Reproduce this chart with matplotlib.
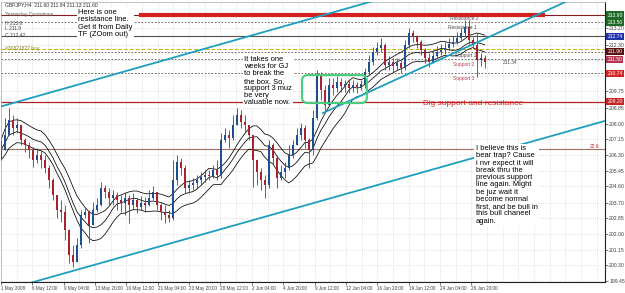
import numpy as np
import pandas as pd
import matplotlib
matplotlib.use("Agg")
import matplotlib.pyplot as plt
import matplotlib.transforms as mtransforms
from matplotlib.patches import FancyBboxPatch

plt.rcParams['font.family'] = ['Liberation Sans', 'DejaVu Sans']

# GBPJPY H4, one candle here ~ two H4 bars
first_open = 206.10
closes = [206.57, 207.38, 208.20, 207.76, 207.93, 207.11, 206.84, 206.57, 206.02, 206.30,
          206.02, 205.59, 204.94, 204.12, 203.31, 203.20, 202.22, 200.86, 200.48, 201.41,
          203.04, 203.20, 202.49, 203.31, 203.58, 204.50, 204.29, 203.96, 204.12, 203.85,
          203.69, 203.96, 203.58, 203.85, 203.47, 203.69, 203.58, 203.96, 204.29, 203.58,
          203.20, 203.04, 202.87, 204.94, 205.92, 205.59, 204.50, 204.67, 204.77, 204.94,
          205.10, 205.21, 205.15, 205.48, 205.21, 207.11, 207.38, 207.22, 207.93, 208.47,
          208.09, 207.93, 207.38, 206.02, 205.37, 204.94, 204.67, 206.84, 206.13, 205.05,
          205.37, 205.59, 206.30, 206.84, 207.38, 207.76, 207.11, 206.57, 208.31, 210.64,
          209.83, 209.01, 210.10, 209.94, 210.26, 210.05, 210.15, 209.94, 210.10, 209.99,
          210.15, 210.81, 211.35, 211.89, 212.11, 212.28, 211.19, 211.35, 211.13, 211.30,
          211.02, 212.28, 212.93, 212.76, 212.44, 212.00, 211.57, 211.35, 211.68, 211.89,
          212.00, 212.11, 212.33, 212.44, 212.66, 212.93, 213.25, 212.55, 212.28, 211.46,
          211.57, 211.35]
highs = [207.11, 208.31, 208.85, 208.47, 208.31, 207.93, 207.22, 207.00, 206.73, 206.68,
         206.57, 206.30, 205.75, 205.05, 204.12, 203.85, 203.58, 202.30, 201.41, 201.79,
         203.31, 203.42, 203.31, 203.74, 203.96, 204.83, 204.67, 204.50, 204.39, 204.29,
         204.12, 204.29, 204.12, 204.23, 203.96, 204.07, 204.01, 204.39, 204.61, 204.29,
         203.69, 203.58, 203.31, 206.02, 206.30, 206.13, 205.75, 204.94, 205.05, 205.21,
         205.37, 205.48, 205.48, 205.75, 206.02, 207.49, 207.76, 207.66, 208.47, 208.85,
         208.74, 208.47, 207.93, 207.38, 206.02, 205.59, 205.21, 207.11, 206.95, 206.30,
         205.75, 205.92, 206.84, 207.11, 207.76, 208.04, 207.93, 207.22, 208.74, 210.92,
         210.81, 210.10, 210.48, 210.48, 210.59, 210.48, 210.37, 210.37, 210.37, 210.26,
         210.37, 211.02, 211.73, 212.17, 212.44, 212.66, 212.40, 211.68, 211.57, 211.57,
         211.46, 212.55, 213.20, 213.09, 212.82, 212.55, 212.11, 211.84, 212.00, 212.22,
         212.33, 212.44, 212.66, 212.76, 212.98, 213.20, 213.63, 213.63, 212.71, 212.93,
         211.84, 211.73]
lows = [206.02, 206.57, 207.38, 207.38, 207.49, 206.84, 206.46, 206.13, 205.65, 205.86,
        205.59, 205.32, 204.50, 203.85, 202.87, 202.66, 201.68, 200.43, 200.21, 200.48,
        201.24, 202.87, 201.51, 202.49, 203.20, 203.50, 203.96, 203.58, 203.58, 203.31,
        203.20, 203.04, 202.60, 203.31, 203.15, 203.31, 203.20, 203.52, 203.85, 203.31,
        202.77, 202.60, 202.66, 202.77, 204.67, 205.21, 204.23, 204.23, 204.39, 204.50,
        204.67, 204.83, 204.94, 205.05, 204.94, 205.05, 207.00, 206.68, 207.11, 207.93,
        207.76, 207.55, 207.11, 204.56, 204.67, 204.39, 203.96, 204.50, 205.75, 204.50,
        204.94, 205.05, 205.48, 206.13, 206.84, 207.11, 206.68, 205.59, 206.30, 208.20,
        209.29, 208.63, 208.95, 209.56, 209.72, 209.72, 209.72, 209.67, 209.72, 209.67,
        209.83, 209.94, 210.64, 211.19, 211.73, 211.89, 210.92, 210.92, 210.81, 210.92,
        210.75, 210.92, 212.11, 212.44, 212.11, 211.73, 211.30, 211.08, 211.30, 211.57,
        211.73, 211.79, 212.00, 212.17, 212.33, 212.55, 212.76, 212.33, 212.11, 210.54,
        211.13, 211.02]

time_labels = ["1 May 2008", "6 May 12:00", "9 May 04:00", "13 May 20:00", "16 May 12:00",
               "21 May 04:00", "23 May 20:00", "28 May 12:00", "2 Jun 04:00", "4 Jun 20:00",
               "9 Jun 12:00", "12 Jun 04:00", "16 Jun 20:00", "19 Jun 12:00", "24 Jun 04:00",
               "26 Jun 20:00"]
price_ticks = [199.45, 200.30, 201.15, 202.00, 202.85, 203.70, 204.60, 205.45, 206.30,
               207.15, 208.00, 208.85, 209.75, 212.30, 213.20]

# levels drawn on the chart
resistance = 213.90
dotted_levels = [213.50, 211.90, 211.50, 210.74]
order_line = 212.06
solid_level = 212.74
big_sr = 209.20
brown_level = 206.62

# trend lines (bar index, price)
upper_ch_x, upper_ch_y = [-0.5, 200.0], [208.92, 214.97]
lower_ch_x, lower_ch_y = [16.0, 308.2], [199.38, 208.15]
support_tl_x, support_tl_y = [164.3, 292.0], [208.58, 214.81]

# coloured price labels on the right scale
tag_values = [213.90, 213.50, 212.74, 211.90, 211.50, 210.74, 209.20]
tag_colors = ['#1f6b25', '#1f6b25', '#2232a8', '#5a1212', '#b5344e', '#d42626', '#c42424']

fig = plt.figure(figsize=(6.25, 2.93), dpi=100)
ax = fig.add_axes([0.0016, 0.0375, 0.9664, 0.9556])
ax.set_xlim(0, 308.2)
ax.set_ylim(199.396, 214.61)

# grid
for gx in np.arange(0, 309, 8):
    ax.axvline(gx, color='#c4c4c4', lw=0.5, ls=(0, (1, 2)), zorder=0)
for gy in price_ticks + [210.60, 211.45]:
    ax.axhline(gy, color='#c4c4c4', lw=0.5, ls=(0, (1, 2)), zorder=0)

# candles
n = len(closes)
xs = np.arange(n) * 2.04
opens = [first_open] + closes[:-1]
up_col, dn_col = '#1d4f93', '#aa2230'
for x, o, h, l, c in zip(xs, opens, highs, lows, closes):
    col = up_col if c >= o else dn_col
    ax.vlines(x, l, h, color=col, lw=0.6, zorder=3)
    ax.bar(x, max(abs(c - o), 0.03), bottom=min(o, c), width=1.1, color=col, zorder=3, lw=0)

# moving averages of high / close / low
for s in (highs, closes, lows):
    ma = pd.Series(s).rolling(10, min_periods=1).mean()
    ax.plot(xs, ma, color='black', lw=0.55, zorder=2)

# horizontal levels
ax.axhline(resistance, color='#8b1c1c', lw=0.8, zorder=1)
ax.plot([70.4, 277.6], [resistance, resistance], color='#d42020', lw=3, zorder=4,
        solid_capstyle='butt')
for lv in dotted_levels:
    ax.axhline(lv, color='#555555', lw=0.6, ls=(0, (2, 2)), zorder=1)
ax.axhline(solid_level, color='#505050', lw=0.8, zorder=1)
ax.axhline(order_line, color='#c8b400', lw=0.7, ls=(0, (4, 2)), zorder=1)
ax.axhline(big_sr, color='#b02020', lw=0.9, zorder=1)
ax.axhline(brown_level, color='#a07060', lw=0.8, zorder=1)

# trend lines
tl_col = '#1e9fbf'
ax.plot(upper_ch_x, upper_ch_y, color=tl_col, lw=1.3, zorder=4)
ax.plot(lower_ch_x, lower_ch_y, color=tl_col, lw=1.3, zorder=4)
ax.plot(support_tl_x, support_tl_y, color=tl_col, lw=1.3, zorder=4)

# green consolidation box
box = FancyBboxPatch((153.6, 209.12), 33.1, 1.52,
                     boxstyle="round,pad=0,rounding_size=3", mutation_aspect=0.1065,
                     fill=False, edgecolor='#45cf7e', lw=1.5, zorder=5)
ax.add_patch(box)

# notes
note_kw = dict(fontsize=5.4, color='black', ha='left', va='top', linespacing=1.05, zorder=10,
               bbox=dict(facecolor='white', edgecolor='none', pad=1))
ax.text(39.3, 214.23, "Here is one\nresistance line.\nGet it from Daily\nTF (ZOom out)", **note_kw)
ax.text(124.0, 211.68, "It takes one\nweeks for GJ\nto break the\nthe box. So,\nsupport 3 muz\n"
        "be very\nvaluable now.", **note_kw)
ax.text(242.3, 206.84, "I believe this is\nbear trap? Cause\ni nvr expect it will\nbreak thru the\n"
        "previous support\nline again. Might\nbe juz wait it\nbecome normal\n"
        "first, and be bull in\nthis bull chaneel\nagain.", **note_kw)
ax.text(215.3, 209.12, "Big support and resistance", fontsize=6.0, color='#e02828',
        ha='left', va='center', zorder=10)

small = dict(fontsize=3.5, ha='left', va='center', zorder=10)
ax.text(229.0, 213.74, "Resistance 2", color='#505050', **small)
ax.text(228.0, 213.25, "Resistance 1", color='#505050', **small)
ax.text(231.6, 211.68, "Support 1", color='#505050', **small)
ax.text(230.6, 211.24, "Support 2", color='#c04050', **small)
ax.text(230.6, 210.43, "Support 3", color='#c04050', **small)
ax.text(256.1, 211.35, "211.34", color='#505050', **small)
ax.text(300.5, 206.78, "22.6", color='#c03030', **small)

# top-left info
info = dict(fontsize=3.6, ha='left', va='center', transform=ax.transAxes, zorder=10)
ax.text(0.006, 0.99, "GBPJPY,H4  211.60 211.84 211.13 211.60", color='#303030', **info)
ax.text(0.006, 0.955, "Yesterday Quotations", color='#606060', **info)
ax.text(0.006, 0.925, "H 213.8", color='#404040', **info)
ax.text(0.006, 0.905, "L 211.9", color='#404040', **info)
ax.text(0.006, 0.882, "C 212.42", color='#404040', **info)
ax.text(0.006, 0.835, "#30821827 buy", color='#8a8020', **info)

# axes styling
ax.yaxis.tick_right()
ax.set_yticks(price_ticks)
ax.set_yticklabels([f"{v:.2f}" for v in price_ticks])
ax.set_xticks(np.arange(len(time_labels)) * 16)
ax.set_xticklabels(time_labels)
for lbl in ax.get_xticklabels():
    lbl.set_horizontalalignment('left')
ax.tick_params(axis='both', labelsize=3.7, colors='#404040', length=2, width=0.5, pad=1)
ax.tick_params(axis='x', labelsize=3.3)
for side in ('left', 'top'):
    ax.spines[side].set_color('#aaaaaa')
    ax.spines[side].set_linewidth(0.5)
for side in ('right', 'bottom'):
    ax.spines[side].set_color('#202020')
    ax.spines[side].set_linewidth(0.8)

tr = mtransforms.blended_transform_factory(ax.transAxes, ax.transData)
for v, c in zip(tag_values, tag_colors):
    ax.text(1.004, v, f"{v:.2f}", transform=tr, fontsize=3.6, color='white', ha='left',
            va='center', zorder=11,
            bbox=dict(facecolor=c, edgecolor='none', pad=0.8), clip_on=False)

fig.savefig("out.png", dpi=100, facecolor='white')
